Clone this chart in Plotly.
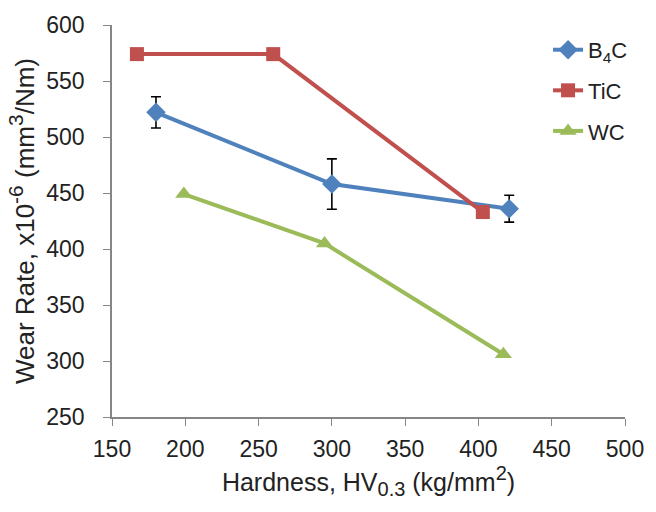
import plotly.graph_objects as go

b4c_x = [180, 300, 421]
b4c_y = [522, 458, 436]
b4c_err = [14, 22.5, 12]

tic_x = [167, 260, 403]
tic_y = [574, 574, 433]

wc_x = [199, 295, 417]
wc_y = [449, 405, 306]

FONT = "Liberation Sans, Arial, sans-serif"

def sup(t, s):
    return '<sup><span style="font-size:%dpx">%s</span></sup>' % (s, t)

def sub(t, s):
    return '<sub><span style="font-size:%dpx">%s</span></sub>' % (s, t)

fig = go.Figure()
fig.add_trace(go.Scatter(
    x=b4c_x, y=b4c_y, name="B<sub>4</sub>C", mode="lines+markers",
    line=dict(color="#4F81BD", width=4),
    marker=dict(symbol="diamond", size=15, color="#4F81BD"),
    error_y=dict(type="data", array=b4c_err, color="black", thickness=1.6, width=5),
    legendgroup="a"))
fig.add_trace(go.Scatter(
    x=tic_x, y=tic_y, name="TiC", mode="lines+markers",
    line=dict(color="#C0504D", width=4),
    marker=dict(symbol="square", size=14, color="#C0504D"),
    legendgroup="b"))
fig.add_trace(go.Scatter(
    x=wc_x, y=wc_y, name="WC", mode="lines+markers",
    line=dict(color="#9BBB59", width=4),
    marker=dict(symbol="triangle-up", size=15, color="#9BBB59"),
    legendgroup="c"))

fig.update_layout(
    width=656, height=512,
    margin=dict(l=112, r=23, t=23, b=95),
    paper_bgcolor="white", plot_bgcolor="white",
    font=dict(family=FONT, color="#222222"),
    legend=dict(x=0.85, y=0.99, xanchor="left", yanchor="top",
                font=dict(size=22, family=FONT), bgcolor="rgba(0,0,0,0)",
                traceorder="grouped", tracegroupgap=9),
    xaxis=dict(range=[150, 500], dtick=50, showgrid=False, zeroline=False,
               showline=True, linecolor="#868686", linewidth=1.5,
               ticks="outside", ticklen=7, tickcolor="#868686",
               ticklabelstandoff=4,
               tickfont=dict(size=23, family=FONT),
               title=dict(text="Hardness, HV" + sub("0.3", 20) + " (kg/mm" + sup("2", 20) + ")",
                          font=dict(size=25, family=FONT), standoff=10)),
    yaxis=dict(range=[250, 600], dtick=50, showgrid=False, zeroline=False,
               showline=True, linecolor="#868686", linewidth=1.5,
               ticks="outside", ticklen=7, tickcolor="#868686",
               ticklabelstandoff=14,
               tickfont=dict(size=23, family=FONT),
               title=dict(text="Wear Rate, x10" + sup("-6", 21) + " (mm" + sup("3", 21) + "/Nm)",
                          font=dict(size=26, family=FONT), standoff=4)),
)

fig.write_html("out.html")
